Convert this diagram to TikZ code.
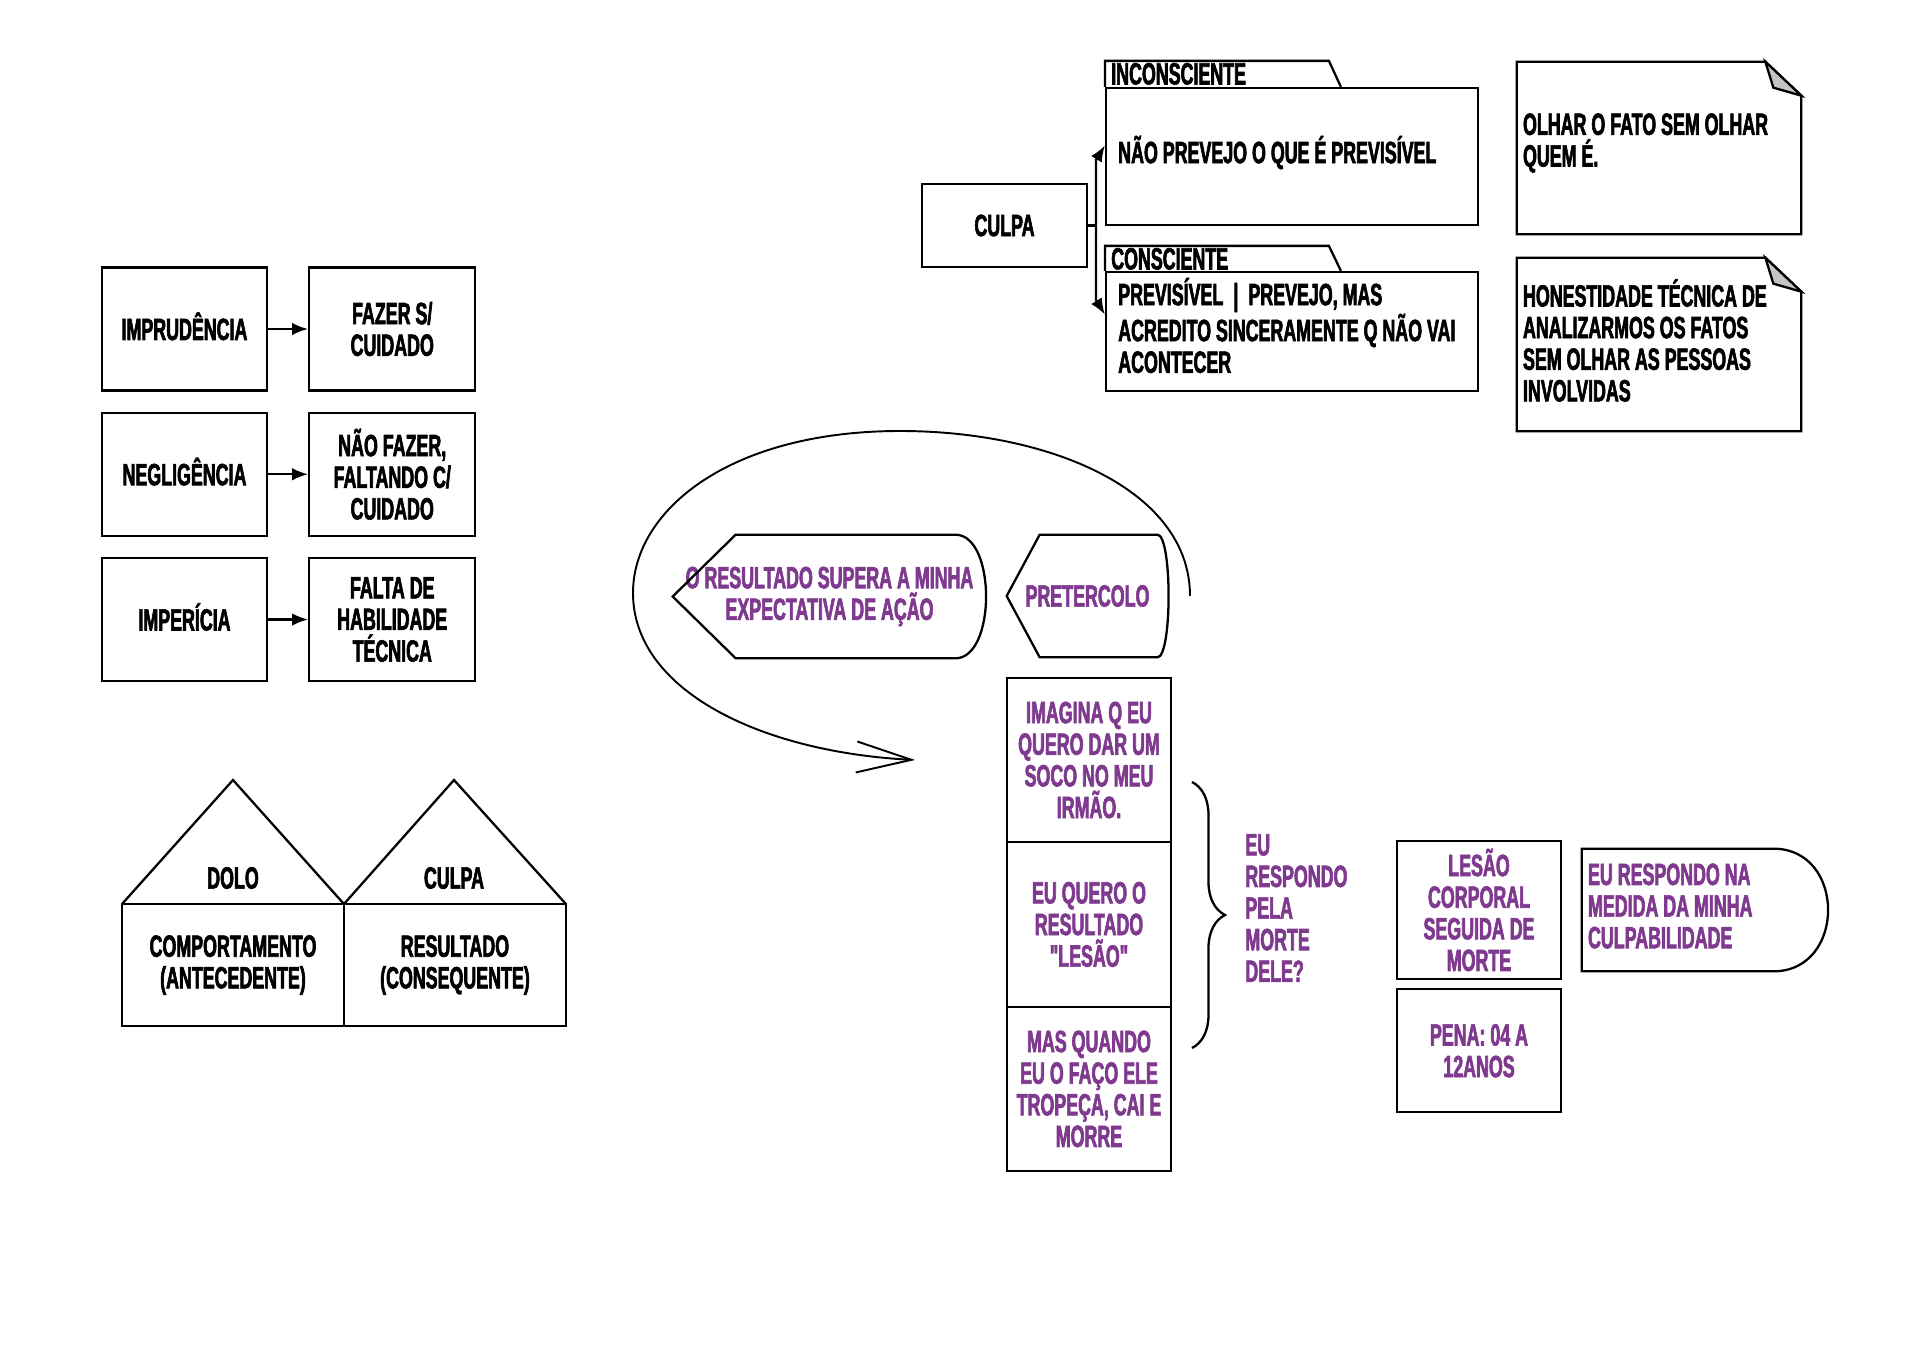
\documentclass[tikz,border=0pt]{standalone}
\usepackage{fontspec}
\newfontfamily\bebas{Liberation Sans Bold}[FakeStretch=0.58, FakeBold=2]
\usetikzlibrary{arrows.meta, positioning, calc, decorations.pathreplacing}
\definecolor{roxo}{HTML}{7F3A8F}
\definecolor{dobra}{HTML}{C4C4C4}

\begin{document}
\begin{tikzpicture}[
    x=0.02cm, y=-0.02cm,
    node distance=0.4cm and 0.8cm,
    lbl/.style={font=\bebas\fontsize{17.5}{18}\selectfont, align=center, inner sep=0pt},
    box/.style={lbl, rectangle, draw, line width=1.3pt},
    leftbox/.style={box, minimum width=3.3cm, minimum height=2.46cm},
    oneline/.style={text height=12.5pt, text depth=0pt},
    house/.style={box, outer sep=0pt, minimum width=4.44cm, minimum height=2.44cm},
    stackbox/.style={box, text=roxo, outer sep=0pt, minimum width=3.28cm, minimum height=3.29cm},
    outline/.style={line width=1.3pt},
    arrow/.style={-{Latex[length=0.32cm, width=0.25cm]}, line width=1.3pt}
]
\useasboundingbox (0,0) rectangle (1920,1358);

% Left column: kinds of culpa
\node[leftbox, oneline] (imprud) at (184.5,329) {IMPRUDÊNCIA};
\node[leftbox, right=of imprud, minimum width=3.32cm] (fazer) {FAZER S/\\CUIDADO};
\node[leftbox, oneline, below=of imprud] (neglig) {NEGLIGÊNCIA};
\node[leftbox, right=of neglig, minimum width=3.32cm] (naofazer) {NÃO FAZER,\\FALTANDO C/\\CUIDADO};
\node[leftbox, oneline, below=of neglig] (imper) {IMPERÍCIA};
\node[leftbox, right=of imper, minimum width=3.32cm] (falta) {FALTA DE\\HABILIDADE\\TÉCNICA};

\draw[arrow] (imprud) -- (fazer);
\draw[arrow] (neglig) -- (naofazer);
\draw[arrow] (imper) -- (falta);

% Houses
\node[house] (comport) at (233,965) {COMPORTAMENTO\\(ANTECEDENTE)};
\node[house, anchor=west] (result) at (comport.east) {RESULTADO\\(CONSEQUENTE)};
\coordinate (roofa) at (233,780);
\coordinate (roofb) at (454,780);
\draw[outline] (comport.north west) -- (roofa) -- (comport.north east) -- (roofb) -- (result.north east);
\node[lbl] (dolo) at (233,878) {DOLO};
\node[lbl] (culpacasa) at (454,878) {CULPA};

% Culpa: inconsciente / consciente
\node[box, minimum width=3.3cm, minimum height=1.66cm] (culpa) at (1004.5,225.5) {CULPA};
\node[box, minimum width=7.44cm, minimum height=2.74cm] (inc) at (1292,156.5) {};
\node[box, minimum width=7.44cm, minimum height=2.38cm] (consc) at (1292,331.5) {};
\draw[outline] (inc.north west) -- ++(0,-26) -- ++(224,0) -- ($(inc.north west)+(236,0)$);
\draw[outline] (consc.north west) -- ++(0,-25) -- ++(224,0) -- ($(consc.north west)+(236,0)$);
\node[lbl, anchor=west] (inclbl) at ($(inc.north west)+(6,-13)$) {INCONSCIENTE};
\node[lbl, anchor=west] (consclbl) at ($(consc.north west)+(6,-12)$) {CONSCIENTE};
\node[lbl, anchor=west, align=left] (inctxt) at ($(inc.west)+(13,-4)$) {NÃO PREVEJO O QUE É PREVISÍVEL};
\node[lbl, anchor=west, align=left] (consctxt) at ($(consc.west)+(13,-6)$) {PREVISÍVEL \,|\, PREVEJO, MAS\\ACREDITO SINCERAMENTE Q NÃO VAI\\ACONTECER};

\coordinate (jn) at (1096,225.5);
\coordinate (jup) at (1096,160);
\coordinate (jdn) at (1096,300);
\draw[outline] (culpa.east) -- (jn);
\draw[arrow] (jn) -- (jup) -- ($(inc.west)+(0,-11)$);
\draw[arrow] (jn) -- (jdn) -- ($(consc.west)+(0,-17)$);

% Notes with folded corner
\node[minimum width=5.68cm, minimum height=3.44cm] (note1) at (1659,148) {};
\draw[outline] (note1.south west) -- (note1.north west) -- ($(note1.north east)+(-36,0)$) -- ($(note1.north east)+(0,34)$) -- (note1.south east) -- cycle;
\filldraw[outline, fill=dobra] ($(note1.north east)+(-36,0)$) -- ($(note1.north east)+(-28,26)$) -- ($(note1.north east)+(0,34)$) -- cycle;
\node[lbl, anchor=west, align=left] (olhar) at ($(note1.west)+(6,-5)$) {OLHAR O FATO SEM OLHAR\\QUEM É.};

\node[minimum width=5.68cm, minimum height=3.46cm] (note2) at (1659,344.5) {};
\draw[outline] (note2.south west) -- (note2.north west) -- ($(note2.north east)+(-36,0)$) -- ($(note2.north east)+(0,34)$) -- (note2.south east) -- cycle;
\filldraw[outline, fill=dobra] ($(note2.north east)+(-36,0)$) -- ($(note2.north east)+(-28,26)$) -- ($(note2.north east)+(0,34)$) -- cycle;
\node[lbl, anchor=west, align=left] (honest) at ($(note2.west)+(6,-4)$) {HONESTIDADE TÉCNICA DE\\ANALIZARMOS OS FATOS\\SEM OLHAR AS PESSOAS\\INVOLVIDAS};

% Preterdolo
\node[lbl, text=roxo, minimum width=6.26cm, minimum height=2.46cm] (supera) at (829.5,596.5) {O RESULTADO SUPERA A MINHA\\EXPECTATIVA DE AÇÃO};
\draw[outline] (supera.west) -- ($(supera.north west)+(63,0)$) -- ($(supera.north east)+(-31,0)$) .. controls ($(supera.north east)+(10,0)$) and ($(supera.south east)+(10,0)$) .. ($(supera.south east)+(-31,0)$) -- ($(supera.south west)+(63,0)$) -- cycle;
\node[lbl, text=roxo, minimum width=3.22cm, minimum height=2.44cm] (preterc) at (1087.5,596) {PRETERCOLO};
\draw[outline] (preterc.west) -- ($(preterc.north west)+(33,0)$) -- ($(preterc.north east)+(-11,0)$) .. controls ($(preterc.north east)+(4,0)$) and ($(preterc.south east)+(4,0)$) .. ($(preterc.south east)+(-11,0)$) -- ($(preterc.south west)+(33,0)$) -- cycle;

\coordinate (loopa) at (1190,596);
\coordinate (loopb) at (915,760);
\draw[line width=1.1pt, -{Straight Barb[length=1.1cm, width=0.62cm]}] (loopa) .. controls (1190,490) and (1050,431) .. (900,431) .. controls (730,431) and (633,510) .. (633,593) .. controls (633,690) and (760,752) .. (loopb);

\node[stackbox] (imagina) at (1089,760) {IMAGINA Q EU\\QUERO DAR UM\\SOCO NO MEU\\IRMÃO.};
\node[stackbox, below=0pt of imagina] (quero) {EU QUERO O\\RESULTADO\\"LESÃO"};
\node[stackbox, below=0pt of quero] (mas) {MAS QUANDO\\EU O FAÇO ELE\\TROPEÇA, CAI E\\MORRE};

\coordinate (brtop) at (1192,782);
\coordinate (brbot) at (1192,1048);
\draw[outline, decorate, decoration={brace, amplitude=0.66cm}] (brtop) -- (brbot);
\node[lbl, text=roxo, anchor=west, align=left] (responde) at (1245,908) {EU\\RESPONDO\\PELA\\MORTE\\DELE?};

\node[box, text=roxo, minimum width=3.28cm, minimum height=2.76cm] (lesao) at (1479,910) {LESÃO\\CORPORAL\\SEGUIDA DE\\MORTE};
\node[box, text=roxo, below=0.16cm of lesao, minimum width=3.28cm, minimum height=2.46cm] (pena) {PENA: 04 A\\12ANOS};

\node[minimum width=4.92cm, minimum height=2.44cm] (medida) at (1705,910) {};
\draw[outline] (medida.north west) -- ($(medida.north east)+(-55,0)$) .. controls ($(medida.north east)+(18,0)$) and ($(medida.south east)+(18,0)$) .. ($(medida.south east)+(-55,0)$) -- (medida.south west) -- cycle;
\node[lbl, text=roxo, anchor=west, align=left] (medidatxt) at ($(medida.west)+(6,-4)$) {EU RESPONDO NA\\MEDIDA DA MINHA\\CULPABILIDADE};

\end{tikzpicture}
\end{document}
